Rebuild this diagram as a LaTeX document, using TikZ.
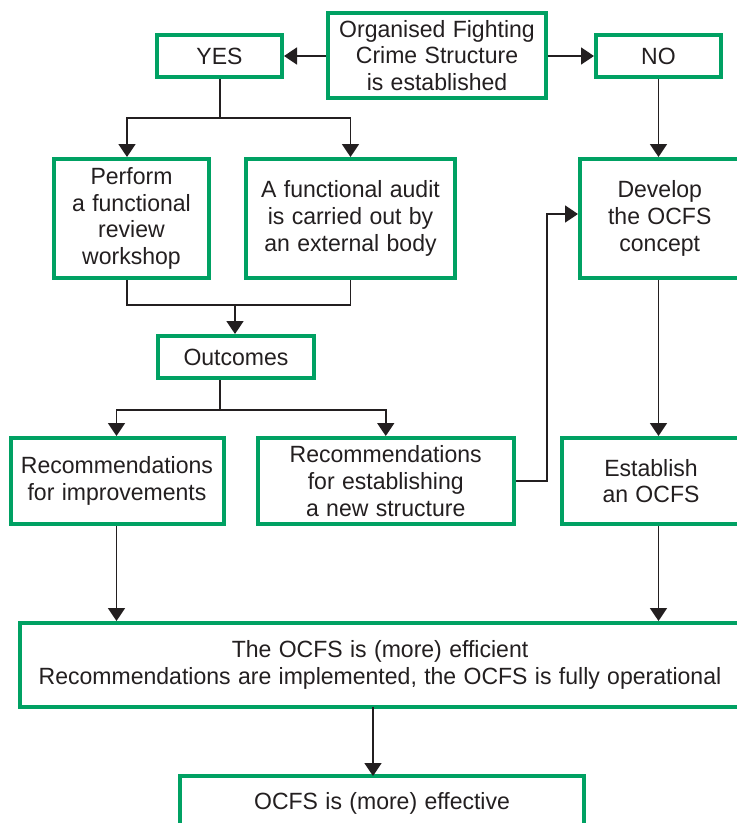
\documentclass[tikz,border=0pt]{standalone}
\usepackage{fontspec}
\setmainfont[FakeStretch=0.98,WordSpace=1.15]{Liberation Sans}
\usetikzlibrary{arrows.meta,calc}

\definecolor{boxgreen}{RGB}{0,161,99}
\definecolor{linegray}{RGB}{35,31,32}

\tikzset{
  flowbox/.style={draw=boxgreen, line width=4pt, fill=white, inner sep=0pt,
    align=center, text=linegray,
    font=\fontsize{23.5}{26.7}\selectfont},
  link/.style={draw=linegray, line width=1.8pt},
  arrowlink/.style={link, -{Triangle[length=13pt,width=17pt]}},
}

\begin{document}
\begin{tikzpicture}[x=1pt,y=-1pt]
  \useasboundingbox (0,0) rectangle (737,823);
  \clip (0,0) rectangle (737,823);

  % top row
  \node[flowbox, minimum width=218pt, minimum height=85pt] (start) at (437,55.5)
    {Organised Fighting\\Crime Structure\\is established};
  \node[flowbox, minimum width=125pt, minimum height=42pt] (yes) at (219.5,56) {YES};
  \node[flowbox, minimum width=125pt, minimum height=42pt] (no) at (658.5,56) {NO};

  % second row
  \node[flowbox, minimum width=155pt, minimum height=119pt] (review) at (131.5,218.5)
    {Perform\\a functional\\review\\workshop};
  \node[flowbox, minimum width=209pt, minimum height=119pt] (audit) at (350.5,218.5)
    {A functional audit\\is carried out by\\an external body};
  \node[flowbox, minimum width=159.5pt, minimum height=119pt] (develop) at (659.75,218.5)
    {Develop\\the OCFS\\concept};

  % outcomes
  \node[flowbox, minimum width=156pt, minimum height=42pt] (outcomes) at (236,357) {Outcomes};

  % third row
  \node[flowbox, minimum width=213pt, minimum height=86pt] (improve) at (117,481)
    {Recommendations\\for improvements};
  \node[flowbox, minimum width=255.5pt, minimum height=86pt] (newstruct) at (385.75,481)
    {Recommendations\\for establishing\\a new structure};
  \node[flowbox, minimum width=178pt, minimum height=86pt] (establish) at (651,481)
    {Establish\\an OCFS};

  % results
  \node[flowbox, minimum width=720pt, minimum height=84pt] (efficient) at (380,665)
    {The OCFS is (more) efficient\\Recommendations are implemented, the OCFS is fully operational};
  \node[flowbox, minimum width=404pt, minimum height=54pt] (effective) at (382,803)
    {OCFS is (more) effective};

  % junction points
  \coordinate (ysplit) at (220,118);
  \coordinate (rmerge) at (235,305);
  \coordinate (osplit) at (220,410);
  \coordinate (loop) at (547,214);

  % start -> yes / no
  \draw[arrowlink] (start.west |- yes) -- (yes.east);
  \draw[arrowlink] (start.east |- no) -- (no.west);

  % yes -> review / audit
  \draw[link] (yes.south -| ysplit) -- (ysplit);
  \draw[arrowlink] (ysplit) -| ([xshift=-4.5pt]review.north);
  \draw[arrowlink] (ysplit) -| (audit.north);

  % no -> develop
  \draw[arrowlink] (no.south) -- (no.south |- develop.north);

  % review + audit -> outcomes
  \draw[link] ([xshift=-4.5pt]review.south) |- (rmerge -| audit.south) -- (audit.south);
  \draw[arrowlink] (rmerge) -- (rmerge |- outcomes.north);

  % outcomes -> improvements / new structure
  \draw[link] (outcomes.south -| osplit) -- (osplit);
  \draw[arrowlink] (osplit) -| ([xshift=-0.5pt]improve.north);
  \draw[arrowlink] (osplit) -| (newstruct.north);

  % new structure -> develop
  \draw[arrowlink] (newstruct.east) -| (loop) -- (loop -| develop.west);

  % develop -> establish
  \draw[arrowlink] (no.south |- develop.south) -- (no.south |- establish.north);

  % improvements / establish -> efficient
  \draw[arrowlink] ([xshift=-0.5pt]improve.south) -- ([xshift=-0.5pt]improve.south |- efficient.north);
  \draw[arrowlink] (no.south |- establish.south) -- (no.south |- efficient.north);

  % efficient -> effective
  \draw[arrowlink] (373,707) -- (373,776);
\end{tikzpicture}
\end{document}
